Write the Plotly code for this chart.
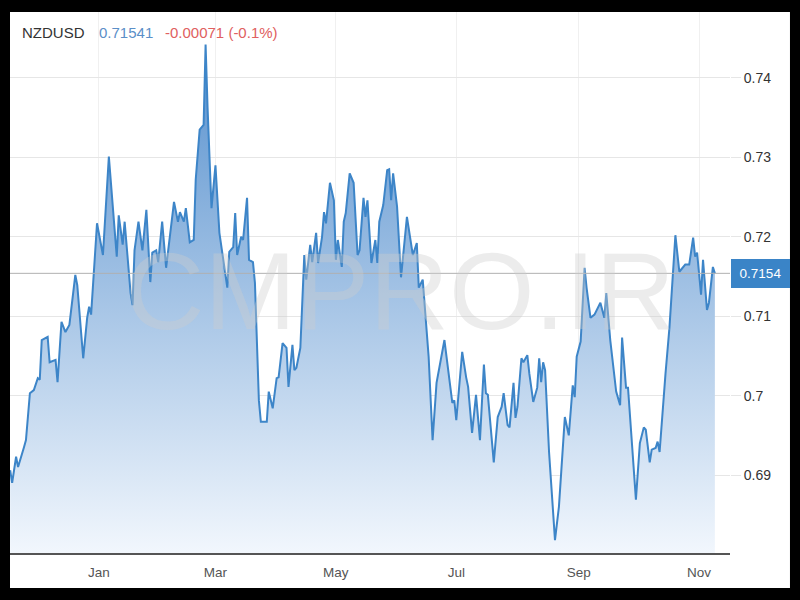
import plotly.graph_objects as go

# ---- data ----
dates = [
    "2020-11-17", "2020-11-18", "2020-11-20", "2020-11-21", "2020-11-24", "2020-11-25", "2020-11-27", "2020-11-29",
    "2020-12-01", "2020-12-02", "2020-12-03", "2020-12-06", "2020-12-07", "2020-12-10", "2020-12-11", "2020-12-13",
    "2020-12-15", "2020-12-17", "2020-12-20", "2020-12-21", "2020-12-24", "2020-12-26", "2020-12-27", "2020-12-28",
    "2020-12-31", "2021-01-03", "2021-01-06", "2021-01-08", "2021-01-10", "2021-01-11", "2021-01-13", "2021-01-14",
    "2021-01-17", "2021-01-18", "2021-01-19", "2021-01-21", "2021-01-23", "2021-01-25", "2021-01-27", "2021-01-28",
    "2021-01-30", "2021-01-31", "2021-02-02", "2021-02-04", "2021-02-06", "2021-02-08", "2021-02-10", "2021-02-11",
    "2021-02-13", "2021-02-14", "2021-02-16", "2021-02-18", "2021-02-19", "2021-02-20", "2021-02-21", "2021-02-23",
    "2021-02-24", "2021-02-25", "2021-02-27", "2021-03-01", "2021-03-03", "2021-03-07", "2021-03-08", "2021-03-10",
    "2021-03-11", "2021-03-12", "2021-03-14", "2021-03-15", "2021-03-17", "2021-03-18", "2021-03-20", "2021-03-21",
    "2021-03-23", "2021-03-24", "2021-03-27", "2021-03-28", "2021-03-30", "2021-04-01", "2021-04-02", "2021-04-04",
    "2021-04-06", "2021-04-07", "2021-04-09", "2021-04-10", "2021-04-11", "2021-04-13", "2021-04-14", "2021-04-15",
    "2021-04-16", "2021-04-18", "2021-04-19", "2021-04-21", "2021-04-22", "2021-04-24", "2021-04-25", "2021-04-26",
    "2021-04-28", "2021-04-30", "2021-05-01", "2021-05-02", "2021-05-04", "2021-05-05", "2021-05-06", "2021-05-08",
    "2021-05-10", "2021-05-12", "2021-05-13", "2021-05-15", "2021-05-16", "2021-05-17", "2021-05-19", "2021-05-21",
    "2021-05-22", "2021-05-23", "2021-05-25", "2021-05-27", "2021-05-28", "2021-05-29", "2021-05-30", "2021-06-01",
    "2021-06-03", "2021-06-06", "2021-06-09", "2021-06-11", "2021-06-12", "2021-06-14", "2021-06-17", "2021-06-19",
    "2021-06-21", "2021-06-25", "2021-06-29", "2021-06-30", "2021-07-01", "2021-07-04", "2021-07-06", "2021-07-07",
    "2021-07-09", "2021-07-11", "2021-07-13", "2021-07-15", "2021-07-16", "2021-07-17", "2021-07-20", "2021-07-22",
    "2021-07-24", "2021-07-25", "2021-07-27", "2021-07-28", "2021-07-30", "2021-07-31", "2021-08-01", "2021-08-03",
    "2021-08-04", "2021-08-06", "2021-08-07", "2021-08-09", "2021-08-11", "2021-08-12", "2021-08-13", "2021-08-14",
    "2021-08-15", "2021-08-17", "2021-08-20", "2021-08-22", "2021-08-25", "2021-08-27", "2021-08-29", "2021-08-30",
    "2021-08-31", "2021-09-02", "2021-09-04", "2021-09-05", "2021-09-07", "2021-09-09", "2021-09-12", "2021-09-14",
    "2021-09-15", "2021-09-17", "2021-09-20", "2021-09-22", "2021-09-23", "2021-09-25", "2021-09-26", "2021-09-30",
    "2021-10-02", "2021-10-04", "2021-10-05", "2021-10-07", "2021-10-08", "2021-10-10", "2021-10-11", "2021-10-12",
    "2021-10-15", "2021-10-17", "2021-10-20", "2021-10-22", "2021-10-25", "2021-10-27", "2021-10-29", "2021-10-30",
    "2021-10-31", "2021-11-02", "2021-11-03", "2021-11-05", "2021-11-06", "2021-11-08", "2021-11-09",
]
prices = [
    0.6906, 0.6890, 0.6923, 0.6910, 0.6935, 0.6944, 0.7003, 0.7007,
    0.7022, 0.7020, 0.7070, 0.7074, 0.7042, 0.7045, 0.7017, 0.7093,
    0.7080, 0.7089, 0.7152, 0.7139, 0.7047, 0.7098, 0.7112, 0.7102,
    0.7217, 0.7177, 0.7301, 0.7238, 0.7175, 0.7227, 0.7190, 0.7219,
    0.7129, 0.7114, 0.7183, 0.7219, 0.7183, 0.7234, 0.7143, 0.7180,
    0.7183, 0.7168, 0.7219, 0.7161, 0.7205, 0.7244, 0.7219, 0.7231,
    0.7219, 0.7236, 0.7193, 0.7196, 0.7272, 0.7309, 0.7335, 0.7341,
    0.7442, 0.7363, 0.7236, 0.7290, 0.7205, 0.7136, 0.7181, 0.7187,
    0.7230, 0.7177, 0.7200, 0.7196, 0.7249, 0.7171, 0.7168, 0.7142,
    0.6994, 0.6967, 0.6967, 0.7005, 0.6984, 0.7022, 0.7023, 0.7066,
    0.7060, 0.7011, 0.7064, 0.7032, 0.7035, 0.7060, 0.7120, 0.7177,
    0.7146, 0.7190, 0.7168, 0.7205, 0.7167, 0.7200, 0.7231, 0.7217,
    0.7268, 0.7246, 0.7171, 0.7196, 0.7162, 0.7219, 0.7230, 0.7280,
    0.7268, 0.7177, 0.7183, 0.7249, 0.7225, 0.7246, 0.7167, 0.7196,
    0.7167, 0.7219, 0.7240, 0.7284, 0.7285, 0.7246, 0.7280, 0.7238,
    0.7149, 0.7225, 0.7177, 0.7192, 0.7136, 0.7146, 0.7049, 0.6944,
    0.7016, 0.7070, 0.6991, 0.6994, 0.6969, 0.7055, 0.7023, 0.7011,
    0.6953, 0.7001, 0.6944, 0.7039, 0.7003, 0.7001, 0.6916, 0.6973,
    0.6986, 0.7003, 0.6963, 0.6960, 0.7016, 0.6972, 0.6986, 0.7047,
    0.7042, 0.7051, 0.7028, 0.6992, 0.7010, 0.7047, 0.7017, 0.7042,
    0.7032, 0.6929, 0.6818, 0.6860, 0.6973, 0.6950, 0.7013, 0.6998,
    0.7049, 0.7068, 0.7161, 0.7136, 0.7098, 0.7102, 0.7117, 0.7098,
    0.7129, 0.7070, 0.7005, 0.6988, 0.7073, 0.7010, 0.7010, 0.6869,
    0.6940, 0.6960, 0.6957, 0.6916, 0.6932, 0.6934, 0.6942, 0.6929,
    0.7028, 0.7086, 0.7202, 0.7156, 0.7165, 0.7165, 0.7199, 0.7175,
    0.7180, 0.7127, 0.7171, 0.7108, 0.7117, 0.7162, 0.7154,
]

symbol = "NZDUSD"
last_price_text = "0.71541"
change_text = "-0.00071 (-0.1%)"
last_price = 0.7154
last_price_label = "0.7154"
watermark = "CMPRO.IR"

x_tick_dates = ["2021-01-01", "2021-03-01", "2021-05-01", "2021-07-01", "2021-09-01", "2021-11-01"]
x_tick_labels = ["Jan", "Mar", "May", "Jul", "Sep", "Nov"]
y_tick_vals = [0.69, 0.70, 0.71, 0.72, 0.73, 0.74]
y_tick_labels = ["0.69", "0.7", "0.71", "0.72", "0.73", "0.74"]

# ---- styling ----
FONT = "Liberation Sans Narrow, Arial Narrow, Liberation Sans, Arial, sans-serif"
LINE_BLUE = "#3d85c8"
GRID = "#e6e6e6"

fig = go.Figure()
fig.add_trace(go.Scatter(
    x=dates, y=prices, mode="lines",
    line=dict(color=LINE_BLUE, width=2),
    fill="tozeroy",
    fillgradient=dict(
        type="vertical",
        colorscale=[[0, "rgb(242,247,253)"], [1, "rgb(88,145,206)"]],
        start=0.680, stop=0.744,
    ),
    hoverinfo="skip", showlegend=False,
))

fig.update_layout(
    width=800, height=600, autosize=False,
    margin=dict(l=10, r=70, t=12, b=47, pad=0),
    paper_bgcolor="black",
    plot_bgcolor="rgba(0,0,0,0)",
    font=dict(family=FONT, color="#444"),
    xaxis=dict(
        type="date",
        range=["2020-11-16 22:00", "2021-11-16 16:00"],
        tickvals=x_tick_dates, ticktext=x_tick_labels,
        tickfont=dict(size=13.5, color="#555"),
        showgrid=True, gridcolor="#f0f0f0", gridwidth=1,
        showline=True, linecolor="#555", linewidth=2,
        ticks="outside", ticklen=6, tickcolor="rgba(0,0,0,0)",
        zeroline=False,
    ),
    yaxis=dict(
        side="right",
        range=[0.68018, 0.74831],
        tickvals=y_tick_vals, ticktext=y_tick_labels,
        tickfont=dict(size=14, color="#333"),
        showgrid=True, gridcolor=GRID, gridwidth=1,
        ticks="outside", ticklen=10, tickcolor=GRID, tickwidth=1,
        showline=False, zeroline=False,
    ),
    shapes=[
        # white panel inside the black frame
        dict(type="rect", xref="paper", yref="paper",
             x0=0, x1=1.0833, y0=-0.0647, y1=1.0,
             fillcolor="white", line=dict(width=0), layer="below"),
        # last price line
        dict(type="line", xref="paper", yref="y",
             x0=0, x1=1, y0=last_price, y1=last_price,
             line=dict(color="#b0b0b0", width=1), layer="above"),
    ],
    annotations=[
        dict(text=watermark, xref="paper", yref="paper", x=0.5417, y=0.486,
             xanchor="center", yanchor="middle", showarrow=False,
             font=dict(size=110, color="rgba(205,205,205,0.38)", family=FONT)),
        dict(text=symbol, xref="paper", yref="paper", x=0.0139, y=0.963,
             xanchor="left", yanchor="middle", showarrow=False,
             font=dict(size=15, color="#333")),
        dict(text=last_price_text, xref="paper", yref="paper", x=0.1208, y=0.963,
             xanchor="left", yanchor="middle", showarrow=False,
             font=dict(size=15, color="#5b8fc8")),
        dict(text=change_text, xref="paper", yref="paper", x=0.2125, y=0.963,
             xanchor="left", yanchor="middle", showarrow=False,
             font=dict(size=15, color="#e06060")),
        dict(text=last_price_label, xref="paper", yref="y", x=1.0014, y=last_price,
             xanchor="left", yanchor="middle", showarrow=False,
             width=55, height=25, borderpad=2, borderwidth=0,
             bgcolor="#3a84c7", align="center",
             font=dict(size=13.5, color="white")),
    ],
)

fig.write_html(
    "out.html",
    config={"displayModeBar": False},
    post_script="document.body.style.margin='0';document.body.style.background='#000';",
)
